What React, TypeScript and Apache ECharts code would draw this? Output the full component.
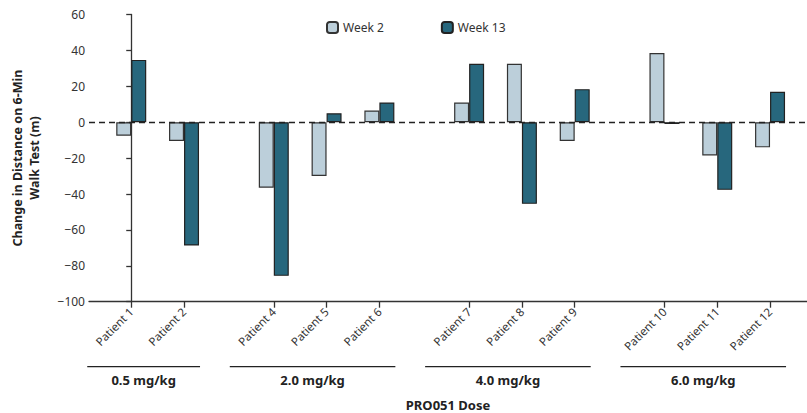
import React, { useEffect, useRef } from "react";
import * as echarts from "echarts";

const categories = [
  "Patient 1", "Patient 2",
  "Patient 4", "Patient 5", "Patient 6",
  "Patient 7", "Patient 8", "Patient 9",
  "Patient 10", "Patient 11", "Patient 12",
];
const groups = ["0.5 mg/kg", "2.0 mg/kg", "4.0 mg/kg", "6.0 mg/kg"];
const groupSizes = [2, 3, 3, 3];
const week2 = [-7.5, -10.5, -36.5, -30, 6.5, 11, 32.5, -10.5, 38.5, -18.5, -14];
const week13 = [34.7, -68.7, -85.6, 5, 11, 32.6, -45.5, 18.4, -1, -37.7, 17];
const yTicks = [60, 40, 20, 0, -20, -40, -60, -80, -100];

const FONT = "Noto Sans";
const W = 807;
const H = 413;
const GRID_LEFT = 89;
const GRID_TOP = 14.5;
const GRID_BOTTOM = 111.3;
const X_MIN = -8;
const X_MAX = 128;
const STEP = 10;
const GROUP_STEP = 17;

// axis positions derived from group structure
const positions: number[] = [];
const groupRanges: [number, number][] = [];
{
  let p = 0;
  groupSizes.forEach((n, g) => {
    if (g > 0) p += GROUP_STEP - STEP;
    const start = p;
    for (let i = 0; i < n; i++) {
      positions.push(p);
      p += STEP;
    }
    groupRanges.push([start, p - STEP]);
  });
}

const gridWidth = W - GRID_LEFT;
const px = (v: number) => GRID_LEFT + ((v - X_MIN) / (X_MAX - X_MIN)) * gridWidth;

export default function App() {
  const ref = useRef<HTMLDivElement>(null);
  useEffect(() => {
    if (!ref.current) return;
    const chart = echarts.init(ref.current, null, { renderer: "svg" });
    const graphics: any[] = [];
    groups.forEach((g, i) => {
      const [a, b] = groupRanges[i];
      const x1 = px(a) - 44;
      const x2 = px(b) + 16;
      graphics.push({
        type: "line",
        shape: { x1, y1: 366.7, x2, y2: 366.7 },
        style: { stroke: "#222", lineWidth: 1.3 },
      });
      graphics.push({
        type: "text",
        x: (x1 + x2) / 2,
        y: 380,
        style: {
          text: g,
          fill: "#222",
          font: `bold 13px "${FONT}"`,
          textAlign: "center",
          textVerticalAlign: "middle",
        },
      });
    });
    chart.setOption({
      animation: false,
      textStyle: { fontFamily: FONT },
      legend: {
        left: 321,
        top: 16,
        itemWidth: 11,
        itemHeight: 11,
        itemGap: 57,
        textStyle: { fontSize: 12, color: "#333", fontFamily: FONT },
        data: ["Week 2", "Week 13"],
      },
      grid: {
        left: GRID_LEFT,
        right: 0,
        top: GRID_TOP,
        bottom: GRID_BOTTOM,
        containLabel: false,
        outerBoundsMode: "none",
      },
      xAxis: {
        type: "value",
        min: X_MIN,
        max: X_MAX,
        splitLine: { show: false },
        axisLine: { show: true, onZero: false, lineStyle: { color: "#333", width: 1.3 } },
        axisTick: { show: true, customValues: positions, length: 6, lineStyle: { color: "#333", width: 1.3 } },
        axisLabel: {
          customValues: positions,
          rotate: 45,
          fontSize: 11.5,
          color: "#333",
          margin: 8,
          formatter: (v: number) => {
            const idx = positions.findIndex((p) => Math.abs(p - v) < 0.01);
            return idx >= 0 ? categories[idx] : "";
          },
        },
        name: "PRO051 Dose",
        nameLocation: "middle",
        nameGap: 97,
        nameTextStyle: { fontSize: 13, fontWeight: "bold", color: "#222", fontFamily: FONT },
      },
      yAxis: {
        type: "value",
        min: -100,
        max: 60,
        interval: 20,
        splitLine: { show: false },
        axisLine: { show: true, lineStyle: { color: "#333", width: 1.3 } },
        axisTick: { show: true, length: 5, lineStyle: { color: "#333", width: 1.3 } },
        axisLabel: {
          fontSize: 12,
          color: "#333",
          margin: 4,
          formatter: (v: number) => (yTicks.includes(v) ? String(v).replace("-", "\u2212") : ""),
        },
        name: "Change in Distance on 6-Min\nWalk Test (m)",
        nameLocation: "middle",
        nameGap: 46,
        nameTextStyle: { fontSize: 12.5, fontWeight: "bold", color: "#222", lineHeight: 17, fontFamily: FONT },
      },
      series: [
        {
          name: "Week 2",
          type: "bar",
          barWidth: 15,
          barGap: "0%",
          data: week2.map((v, i) => [positions[i], v]),
          itemStyle: { color: "#bccfda", borderColor: "#333", borderWidth: 1.2 },
          markLine: {
            symbol: "none",
            silent: true,
            label: { show: false },
            lineStyle: { color: "#222", type: [6, 4], width: 1.3 },
            data: [{ yAxis: 0 }],
          },
        },
        {
          name: "Week 13",
          type: "bar",
          barWidth: 15,
          barGap: "0%",
          data: week13.map((v, i) => [positions[i], v]),
          itemStyle: { color: "#27677d", borderColor: "#222", borderWidth: 1.2 },
        },
      ],
      graphic: graphics,
    });
    return () => chart.dispose();
  }, []);
  return (
    <div
      ref={ref}
      style={{ position: "fixed", left: 0, top: 0, width: W, height: H, background: "#fff" }}
    />
  );
}
